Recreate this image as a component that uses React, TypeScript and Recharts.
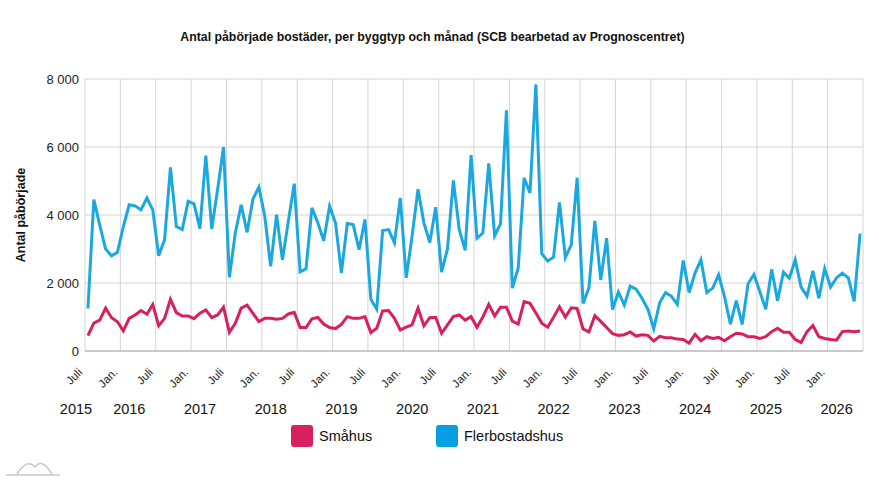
import React from 'react'
import { LineChart, Line, XAxis, YAxis, CartesianGrid, Label } from 'recharts'

// Monthly starts, July 2015 onwards
const START_YEAR = 2015
const START_MONTH = 7

const smahus = [
  450, 820, 910, 1260, 980, 860, 590, 960, 1060, 1190, 1080, 1370,
  740, 960, 1520, 1130, 1030, 1030, 950, 1110, 1210, 980, 1060, 1290,
  550, 815, 1260, 1350, 1110, 865, 960, 960, 935, 960, 1090, 1140,
  690, 690, 945, 985, 795, 690, 660, 780, 1010, 960, 960, 1010,
  540, 670, 1180, 1190, 960, 620, 700, 770, 1260, 740, 980, 990,
  520, 770, 1010, 1060, 910, 1010, 700, 1000, 1370, 1030, 1290, 1290,
  880, 790, 1450, 1400, 1120, 820, 700, 990, 1300, 1000, 1270, 1250,
  650, 560, 1040, 870, 690, 510, 460, 480, 560, 440, 480, 460,
  295, 430, 390, 390, 350, 340, 230, 490, 300, 420, 370, 400,
  300, 420, 520, 500, 420, 420, 370, 420, 570, 670, 550, 550,
  340, 250, 570, 750, 420, 370, 340, 320, 570, 590, 570, 590,
]

const flerbostadshus = [
  1250, 4450, 3700, 3000, 2800, 2900, 3650, 4300, 4270, 4150, 4500, 4150,
  2800, 3270, 5400, 3660, 3570, 4400, 4330, 3600, 5750, 3590, 4750, 6000,
  2170, 3470, 4300, 3490, 4470, 4820, 3960, 2490, 4010, 2680, 3820, 4920,
  2330, 2420, 4210, 3770, 3240, 4260, 3770, 2300, 3750, 3720, 2980, 3870,
  1520, 1230, 3540, 3570, 3180, 4500, 2150, 3380, 4760, 3770, 3190, 4230,
  2320, 3000, 5020, 3570, 2960, 5760, 3320, 3470, 5520, 3390, 3740, 7080,
  1850, 2440, 5090, 4650, 7840, 2860, 2650, 2760, 4370, 2750, 3120, 5090,
  1400, 1860, 3830, 2090, 3320, 1220, 1730, 1350, 1910, 1820, 1550, 1230,
  650, 1420, 1720, 1610, 1370, 2660, 1720, 2290, 2680, 1720, 1850, 2240,
  1600, 790, 1480, 780, 1980, 2250, 1740, 1230, 2400, 1480, 2320, 2140,
  2680, 1880, 1610, 2360, 1550, 2420, 1880, 2150, 2290, 2150, 1460, 3450,
]

const monthLabels: Record<number, string> = { 1: 'Jan.', 7: 'Juli' }
const yTicks = [0, 2000, 4000, 6000, 8000]

const PINK = '#d81f5f'
const BLUE = '#1ba8e0'

const months = smahus.map((_, i) => {
  const k = START_MONTH - 1 + i
  return { month: (k % 12) + 1, year: START_YEAR + Math.floor(k / 12) }
})

const data = months.map((m, i) => ({
  idx: i,
  ...m,
  smahus: smahus[i],
  flerbostadshus: flerbostadshus[i],
}))

const n = data.length
const xTicks = data.filter((d) => d.month === 1 || d.month === 7).map((d) => d.idx)

const fmt = (v: number) => String(v).replace(/\B(?=(\d{3})+(?!\d))/g, ' ')

function MonthTick({ x, y, payload }: any) {
  const i = payload.value
  const { month, year } = months[i]
  const showYear = month === 1 || i === 0
  const tx = x - 5
  const ty = y + 22
  return (
    <g>
      <text
        x={tx}
        y={ty}
        transform={`rotate(-45 ${tx} ${ty})`}
        textAnchor="end"
        fontSize={11.5}
        fill="#222"
      >
        {monthLabels[month]}
      </text>
      {showYear && (
        <text x={x + (i === 0 ? -12 : 6)} y={y + 63} textAnchor="middle" fontSize={14.5} fill="#111">
          {year}
        </text>
      )}
    </g>
  )
}

// vertical lines sit on the month boundaries, every half year
const halfYearLines = ({ offset }: any) => {
  const out: number[] = []
  for (let k = 0; k <= n; k += 6) out.push(offset.left + (k / n) * offset.width)
  return out
}

export default function App() {
  return (
    <div
      style={{
        position: 'relative',
        width: 879,
        height: 481,
        background: '#fff',
        fontFamily: '"Liberation Sans", Arial, sans-serif',
        color: '#111',
      }}
    >
      <style>{'body{margin:0}'}</style>
      <div
        style={{
          position: 'absolute',
          top: 29,
          left: 0,
          width: 865,
          textAlign: 'center',
          fontWeight: 'bold',
          fontSize: 12.3,
          lineHeight: '16px',
        }}
      >
        Antal påbörjade bostäder, per byggtyp och månad (SCB bearbetad av Prognoscentret)
      </div>

      <LineChart width={879} height={481} data={data} margin={{ top: 79, right: 16, bottom: 0, left: 0 }}>
        <CartesianGrid stroke="#d4d4d4" verticalCoordinatesGenerator={halfYearLines} />
        <XAxis
          dataKey="idx"
          type="number"
          domain={[-0.5, n - 0.5]}
          ticks={xTicks}
          interval={0}
          height={130}
          tickLine={false}
          tickSize={0}
          tickMargin={0}
          stroke="#aaa"
          tick={<MonthTick />}
        />
        <YAxis
          domain={[0, 8000]}
          ticks={yTicks}
          width={85}
          axisLine={false}
          tickLine={false}
          tickSize={0}
          tickMargin={6}
          tickFormatter={fmt}
          tick={{ fontSize: 13, fill: '#222' }}
        >
          <Label
            content={({ viewBox }: any) => {
              const cy = viewBox.y + viewBox.height / 2
              return (
                <text
                  x={21}
                  y={cy}
                  transform={`rotate(-90 21 ${cy})`}
                  textAnchor="middle"
                  dominantBaseline="central"
                  fontWeight="bold"
                  fontSize={12.5}
                  fill="#111"
                >
                  Antal påbörjade
                </text>
              )
            }}
          />
        </YAxis>
        <Line
          type="linear"
          dataKey="smahus"
          name="Småhus"
          stroke={PINK}
          strokeWidth={3}
          dot={false}
          isAnimationActive={false}
        />
        <Line
          type="linear"
          dataKey="flerbostadshus"
          name="Flerbostadshus"
          stroke={BLUE}
          strokeWidth={3}
          dot={false}
          isAnimationActive={false}
        />
      </LineChart>

      {/* Legend */}
      {[
        { label: 'Småhus', color: PINK, left: 291 },
        { label: 'Flerbostadshus', color: '#06a0e2', left: 436 },
      ].map((item) => (
        <div
          key={item.label}
          style={{ position: 'absolute', top: 425, left: item.left, display: 'flex', alignItems: 'center', gap: 6 }}
        >
          <div style={{ width: 22, height: 22, borderRadius: 3, background: item.color }} />
          <span style={{ fontSize: 14.5 }}>{item.label}</span>
        </div>
      ))}

      {/* small logo mark */}
      <svg style={{ position: 'absolute', left: 0, top: 455 }} width={70} height={26}>
        <path d="M6 20 H60" stroke="#c8c8c8" strokeWidth={1.5} fill="none" />
        <path
          d="M17 19 C24 8, 30 6, 35 12 C39 6, 45 7, 52 19"
          stroke="#c8c8c8"
          strokeWidth={1.5}
          fill="none"
        />
      </svg>
    </div>
  )
}
